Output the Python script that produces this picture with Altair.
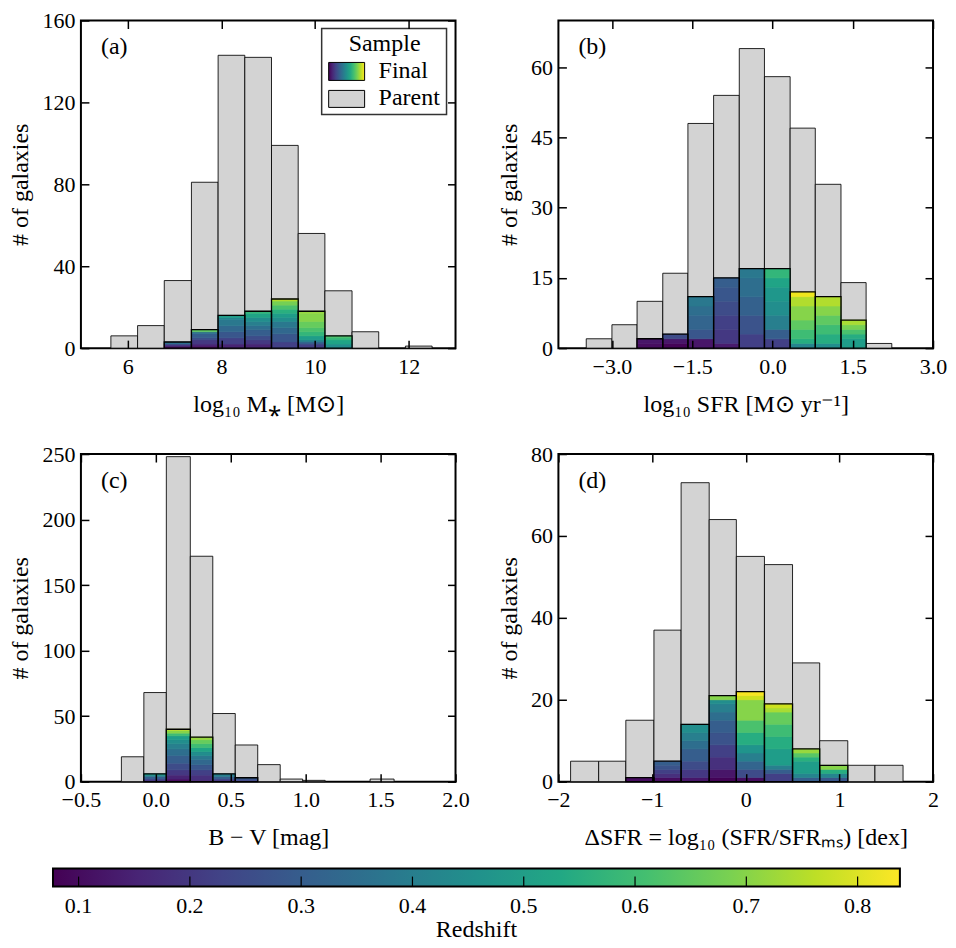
import altair as alt
import pandas as pd

FONT = "Liberation Serif"
FS = 24      # titles, legend, panel tags
FT = 22      # tick labels

VIRIDIS = ["#440154", "#482475", "#414487", "#355f8d", "#2a788e", "#21918c",
           "#22a884", "#44bf70", "#7ad151", "#bddf26", "#fde725"]
STOP_POS = [0.0, 0.1, 0.2, 0.3, 0.4, 0.5, 0.6, 0.7, 0.8, 0.9, 1.0]
Z_DOMAIN = [0.077, 0.838]

# ---------------- panel (a): stellar mass ----------------
A_edges = [5.64, 6.21, 6.78, 7.36, 7.93, 8.50, 9.07, 9.64, 10.21, 10.79, 11.36, 11.93, 12.50]
A_parent = [6, 11, 33, 81, 143, 142, 99, 56, 28, 8, 0, 1]
A_final = [
    [], [],
    [(0.10, 1), (0.20, 1), (0.35, 1)],
    [(0.10, 1), (0.15, 1), (0.20, 2), (0.25, 1), (0.30, 2), (0.35, 1), (0.65, 1)],
    [(0.15, 2), (0.22, 3), (0.28, 3), (0.33, 3), (0.38, 3), (0.43, 1), (0.50, 1)],
    [(0.15, 2), (0.20, 2), (0.25, 2), (0.30, 3), (0.35, 2), (0.40, 2), (0.45, 2), (0.52, 2), (0.58, 1)],
    [(0.22, 3), (0.28, 4), (0.33, 3), (0.38, 3), (0.45, 2), (0.50, 2), (0.56, 2), (0.62, 2), (0.68, 2), (0.75, 1)],
    [(0.22, 2), (0.30, 1), (0.40, 1), (0.50, 2), (0.58, 2), (0.62, 2), (0.66, 3), (0.70, 4), (0.72, 1)],
    [(0.45, 2), (0.52, 2), (0.58, 1), (0.62, 1)],
    [], [], [],
]

# ---------------- panel (b): SFR ----------------
B_edges = [-3.48, -3.00, -2.53, -2.05, -1.58, -1.10, -0.62, -0.15, 0.33, 0.80, 1.28, 1.75, 2.23]
B_parent = [2, 5, 10, 16, 48, 54, 64, 58, 47, 35, 14, 1]
B_final = [
    [], [],
    [(0.10, 1), (0.12, 1)],
    [(0.08, 1), (0.12, 1), (0.25, 1)],
    [(0.12, 2), (0.28, 2), (0.32, 3), (0.35, 2), (0.38, 2)],
    [(0.13, 1), (0.20, 3), (0.22, 3), (0.25, 3), (0.28, 3), (0.30, 2)],
    [(0.22, 3), (0.27, 4), (0.31, 4), (0.35, 4), (0.38, 2)],
    [(0.22, 2), (0.30, 2), (0.40, 3), (0.45, 3), (0.48, 3), (0.52, 2), (0.58, 2)],
    [(0.42, 1), (0.55, 1), (0.60, 2), (0.65, 2), (0.70, 3), (0.75, 2), (0.82, 1)],
    [(0.45, 1), (0.55, 2), (0.60, 2), (0.65, 2), (0.70, 2), (0.75, 2)],
    [(0.50, 2), (0.55, 1), (0.62, 1), (0.68, 1), (0.74, 1)],
    [],
]

# ---------------- panel (c): B - V colour ----------------
C_edges = [-0.23, -0.08, 0.07, 0.23, 0.38, 0.53, 0.68, 0.83, 0.98, 1.13, 1.28, 1.43, 1.59]
C_parent = [19, 68, 248, 172, 52, 28, 13, 2, 1, 0, 0, 2]
C_final = [
    [],
    [(0.20, 2), (0.30, 2), (0.40, 1), (0.50, 1)],
    [(0.10, 2), (0.15, 3), (0.20, 4), (0.25, 5), (0.30, 6), (0.35, 5), (0.40, 4), (0.45, 3),
     (0.50, 3), (0.60, 2), (0.70, 2), (0.76, 1)],
    [(0.10, 1), (0.18, 4), (0.22, 4), (0.28, 4), (0.33, 4), (0.38, 3), (0.45, 3), (0.52, 3),
     (0.60, 3), (0.66, 3), (0.72, 2)],
    [(0.20, 2), (0.30, 2), (0.40, 2)],
    [(0.20, 1), (0.25, 1), (0.30, 1)],
    [], [], [], [], [], [],
]

# ---------------- panel (d): delta SFR ----------------
D_edges = [-1.87, -1.57, -1.28, -0.98, -0.69, -0.39, -0.10, 0.20, 0.50, 0.79, 1.09, 1.38, 1.68]
D_parent = [5, 5, 15, 37, 73, 64, 55, 53, 29, 10, 4, 4]
D_final = [
    [], [],
    [(0.10, 1)],
    [(0.10, 1), (0.18, 1), (0.22, 1), (0.27, 1), (0.30, 1)],
    [(0.12, 1), (0.20, 2), (0.25, 2), (0.30, 3), (0.35, 2), (0.40, 2), (0.45, 2)],
    [(0.08, 1), (0.12, 2), (0.18, 3), (0.22, 3), (0.27, 3), (0.30, 3), (0.35, 2), (0.40, 2),
     (0.45, 1), (0.70, 1)],
    [(0.10, 1), (0.25, 2), (0.32, 2), (0.40, 2), (0.47, 2), (0.55, 3), (0.62, 3), (0.70, 5),
     (0.78, 1), (0.83, 1)],
    [(0.22, 2), (0.30, 1), (0.40, 1), (0.50, 4), (0.55, 3), (0.60, 3), (0.66, 3), (0.74, 1), (0.78, 1)],
    [(0.30, 1), (0.42, 1), (0.50, 3), (0.56, 1), (0.64, 1), (0.72, 1)],
    [(0.28, 1), (0.42, 1), (0.55, 1), (0.70, 1)],
    [], [],
]

CB_TICKS = [0.1, 0.2, 0.3, 0.4, 0.5, 0.6, 0.7, 0.8]
CB_LABELS = ["0.1", "0.2", "0.3", "0.4", "0.5", "0.6", "0.7", "0.8"]

W, H = 375, 328


def viridis_gradient():
    return alt.LinearGradient(
        gradient="linear",
        stops=[alt.GradientStop(color=c, offset=o) for c, o in zip(VIRIDIS, STOP_POS)],
        x1=0, x2=1, y1=0, y2=0,
    )


def text_layer(txt, x, y, align="left", size=FS):
    return alt.Chart(pd.DataFrame({"t": [txt]})).mark_text(
        align=align, baseline="middle", font=FONT, fontSize=size, color="black"
    ).encode(x=alt.value(x), y=alt.value(y), text="t:N")


def panel(edges, parent, final, xdom, xticks, xfmt, ydom, yticks, xtitle, tag, legend=False):
    lo = edges[:-1]
    hi = edges[1:]
    pdf = pd.DataFrame({"lo": lo, "hi": hi, "n": parent})
    pdf = pdf[pdf["n"] > 0]
    rows, totals = [], []
    for i, bands in enumerate(final):
        cum = 0
        for z, n in bands:
            rows.append({"lo": lo[i], "hi": hi[i], "z": z, "y0": cum, "y1": cum + n})
            cum += n
        if cum > 0:
            totals.append({"lo": lo[i], "hi": hi[i], "n": cum})
    sdf = pd.DataFrame(rows)
    tdf = pd.DataFrame(totals)

    xs = alt.Scale(domain=xdom, nice=False, zero=False)
    ys = alt.Scale(domain=ydom, nice=False, zero=False)
    zs = alt.Scale(scheme="viridis", domain=Z_DOMAIN)
    common = dict(offset=-8, tickSize=8, tickWidth=1.5, tickColor="black",
                  domain=False, grid=False, zindex=1)
    xb = alt.Axis(orient="bottom", values=xticks, format=xfmt, labelPadding=8,
                  title=xtitle, titlePadding=15, labelFlush=False, labelOverlap=False, **common)
    xt = alt.Axis(orient="top", values=xticks, labels=False, title=None, **common)
    yl = alt.Axis(orient="left", values=yticks, labelPadding=6, title="# of galaxies",
                  titlePadding=9, labelOverlap=False, **common)
    yr = alt.Axis(orient="right", values=yticks, labels=False, title=None, **common)

    parent_bars = alt.Chart(pdf).mark_rect(fill="#d3d3d3", stroke="black", strokeWidth=1,
                                           strokeOpacity=0.85).encode(
        x=alt.X("lo:Q", scale=xs, axis=xb), x2="hi:Q",
        y=alt.Y("n:Q", scale=ys, axis=yl), y2=alt.datum(0),
    )
    segs = alt.Chart(sdf).mark_rect(strokeWidth=0.6).encode(
        x=alt.X("lo:Q", scale=xs, axis=None), x2="hi:Q",
        y=alt.Y("y1:Q", scale=ys, axis=None), y2="y0:Q",
        color=alt.Color("z:Q", scale=zs, legend=None),
        stroke=alt.Stroke("z:Q", scale=zs, legend=None),
    )
    outline = alt.Chart(tdf).mark_rect(fillOpacity=0, stroke="black", strokeWidth=1.3).encode(
        x=alt.X("lo:Q", scale=xs, axis=xt), x2="hi:Q",
        y=alt.Y("n:Q", scale=ys, axis=yr), y2=alt.datum(0),
    )
    layers = [parent_bars, segs, outline, text_layer(tag, 20, 27)]
    if legend:
        one = pd.DataFrame({"k": [0]})
        layers += [
            alt.Chart(one).mark_rect(fill="white", stroke="#333333", strokeWidth=1.5).encode(
                x=alt.value(241), x2=alt.value(366), y=alt.value(8), y2=alt.value(94)),
            alt.Chart(one).mark_rect(fill=viridis_gradient(), stroke="black", strokeWidth=1).encode(
                x=alt.value(248), x2=alt.value(284), y=alt.value(42), y2=alt.value(60)),
            alt.Chart(one).mark_rect(fill="#d3d3d3", stroke="black", strokeWidth=1).encode(
                x=alt.value(248), x2=alt.value(284), y=alt.value(70), y2=alt.value(87)),
            text_layer("Sample", 304, 24, align="center"),
            text_layer("Final", 298, 51),
            text_layer("Parent", 298, 78),
        ]
    return alt.layer(*layers).properties(width=W, height=H)


pa = panel(A_edges, A_parent, A_final, [5, 13], [6, 8, 10, 12], "d",
           [0, 160], [0, 40, 80, 120, 160], "log₁₀ M⁎  [M⊙]", "(a)", legend=True)
pb = panel(B_edges, B_parent, B_final, [-4, 3], [-3.0, -1.5, 0.0, 1.5, 3.0], ".1f",
           [0, 70], [0, 15, 30, 45, 60], "log₁₀ SFR  [M⊙ yr⁻¹]", "(b)")
pc = panel(C_edges, C_parent, C_final, [-0.5, 2.0], [-0.5, 0.0, 0.5, 1.0, 1.5, 2.0], ".1f",
           [0, 250], [0, 50, 100, 150, 200, 250], "B − V  [mag]", "(c)")
pd_ = panel(D_edges, D_parent, D_final, [-2, 2], [-2, -1, 0, 1, 2], "d",
            [0, 80], [0, 20, 40, 60, 80], "ΔSFR = log₁₀ (SFR/SFRₘₛ)  [dex]", "(d)")

# ---------------- colour bar ----------------
cxs = alt.Scale(domain=[0.1021, 0.4387], nice=False, zero=False)
cb_bar = alt.Chart(pd.DataFrame({"lo": [Z_DOMAIN[0]], "hi": [Z_DOMAIN[1]]})).mark_rect(
    fill=viridis_gradient(), stroke="black", strokeWidth=2).encode(
    x=alt.X("lo:Q", scale=cxs, axis=None), x2="hi:Q", y=alt.value(-19), y2=alt.value(-1))
cb_ticks = alt.Chart(pd.DataFrame({"z": CB_TICKS})).mark_rule(color="black", strokeWidth=1.2).encode(
    x=alt.X("z:Q", scale=cxs, axis=None), y=alt.value(-1), y2=alt.value(-11))
cb_labels = alt.Chart(pd.DataFrame({"z": CB_TICKS, "t": CB_LABELS})).mark_text(
    font=FONT, fontSize=FT, baseline="middle", color="black").encode(
    x=alt.X("z:Q", scale=cxs, axis=None), y=alt.value(18), text="t:N")
cb_title = alt.Chart(pd.DataFrame({"z": [(Z_DOMAIN[0] + Z_DOMAIN[1]) / 2], "t": ["Redshift"]})).mark_text(
    font=FONT, fontSize=FS, baseline="middle", color="black").encode(
    x=alt.X("z:Q", scale=cxs, axis=None), y=alt.value(42), text="t:N")
cbar = alt.layer(cb_bar, cb_ticks, cb_labels, cb_title).properties(
    width=W, height=18, view=alt.ViewBackground(strokeOpacity=0))

chart = alt.concat(pa, pb, pc, pd_, cbar, columns=2, spacing={"row": 106, "column": 103},
                   bounds="flush", align="each").properties(
    padding={"left": 0, "top": 0, "right": 0, "bottom": 0}
).configure_view(stroke="black", strokeWidth=2).configure_axis(
    labelFont=FONT, titleFont=FONT, labelFontSize=FT, titleFontSize=FS,
    labelColor="black", titleColor="black", titleFontWeight="normal"
)

chart.save("out.html", embed_options={"renderer": "svg", "actions": False})
